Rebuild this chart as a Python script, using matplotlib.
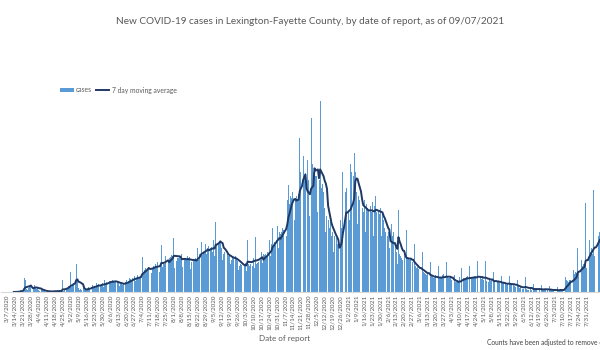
import matplotlib
matplotlib.use('Agg')
import matplotlib.pyplot as plt
import pandas as pd

plt.rcParams['font.family'] = ['Lato', 'DejaVu Sans']

# daily new cases, one row per week, each row starts on a Saturday (first row = 3/7/2020)
weekly_rows = [
    [0, 0, 0, 0, 0, 0, 1],
    [0, 0, 1, 2, 1, 4, 5],
    [3, 34, 30, 8, 6, 10, 12],
    [14, 6, 9, 17, 12, 8, 10],
    [6, 3, 5, 4, 2, 3, 1],
    [1, 0, 2, 3, 1, 2, 3],
    [2, 1, 3, 2, 4, 2, 3],
    [30, 2, 5, 8, 10, 14, 16],
    [50, 12, 18, 22, 20, 70, 30],
    [10, 4, 8, 6, 9, 5, 7],
    [6, 8, 12, 10, 14, 18, 12],
    [14, 10, 22, 18, 20, 16, 19],
    [22, 12, 30, 20, 25, 24, 28],
    [28, 22, 30, 26, 27, 25, 24],
    [22, 15, 20, 24, 18, 22, 25],
    [30, 20, 28, 34, 32, 30, 36],
    [40, 28, 35, 42, 38, 36, 40],
    [88, 45, 55, 60, 52, 58, 62],
    [70, 48, 60, 66, 62, 70, 65],
    [75, 50, 68, 118, 62, 72, 70],
    [90, 62, 80, 86, 88, 92, 90],
    [136, 60, 78, 84, 86, 90, 82],
    [95, 62, 80, 85, 80, 90, 86],
    [88, 58, 76, 82, 80, 86, 82],
    [110, 80, 95, 126, 92, 100, 98],
    [120, 95, 110, 115, 105, 112, 100],
    [130, 90, 176, 118, 120, 125, 128],
    [110, 80, 95, 100, 92, 98, 90],
    [92, 70, 80, 88, 84, 90, 86],
    [78, 55, 65, 70, 68, 72, 66],
    [72, 52, 130, 70, 64, 70, 66],
    [84, 60, 138, 70, 72, 76, 80],
    [100, 72, 95, 92, 96, 90, 100],
    [130, 90, 120, 160, 115, 125, 120],
    [165, 110, 150, 145, 150, 160, 155],
    [200, 140, 230, 267, 220, 240, 235],
    [250, 180, 235, 240, 230, 245, 385],
    [300, 220, 340, 290, 280, 0, 330],
    [280, 190, 435, 320, 300, 310, 290],
    [290, 200, 280, 477, 260, 270, 250],
    [210, 150, 190, 180, 160, 175, 140],
    [150, 100, 140, 135, 120, 130, 0],
    [180, 160, 300, 240, 250, 260, 0],
    [200, 180, 320, 300, 290, 348, 300],
    [250, 170, 240, 230, 220, 210, 200],
    [230, 150, 220, 210, 205, 215, 200],
    [225, 140, 215, 240, 200, 205, 195],
    [210, 140, 200, 180, 160, 150, 140],
    [150, 110, 0, 170, 140, 150, 125],
    [100, 70, 205, 95, 90, 85, 80],
    [95, 0, 155, 88, 85, 80, 82],
    [75, 0, 120, 65, 60, 62, 58],
    [55, 0, 100, 50, 48, 45, 42],
    [45, 0, 74, 40, 38, 36, 35],
    [42, 0, 65, 38, 36, 35, 42],
    [44, 0, 74, 38, 36, 34, 40],
    [30, 0, 43, 26, 24, 28, 25],
    [38, 0, 60, 36, 34, 32, 38],
    [40, 0, 66, 36, 38, 35, 40],
    [40, 0, 78, 36, 35, 32, 40],
    [30, 0, 78, 28, 25, 30, 28],
    [30, 0, 50, 28, 26, 24, 28],
    [22, 0, 40, 25, 22, 20, 18],
    [20, 0, 40, 22, 18, 20, 16],
    [12, 0, 30, 14, 10, 12, 8],
    [8, 0, 37, 8, 6, 5, 7],
    [6, 0, 20, 8, 7, 5, 6],
    [5, 0, 18, 6, 5, 8, 6],
    [4, 0, 14, 5, 4, 3, 5],
    [4, 0, 12, 4, 5, 6, 4],
    [4, 0, 37, 30, 28, 25, 30],
    [30, 0, 55, 45, 50, 48, 110],
    [50, 0, 80, 65, 70, 60, 222],
    [60, 0, 130, 100, 110, 95, 255],
    [90, 0, 160, 140, 150, 130, 150],
]
cases = [v for row in weekly_rows for v in row]
dates = pd.date_range('2020-03-07', periods=len(cases), freq='D')
df = pd.DataFrame({'cases': cases}, index=dates)
df['avg'] = df['cases'].rolling(7).mean()

# weekly category labels, the ones visible before the crop
tick_dates = pd.date_range('2020-03-07', '2021-07-31', freq='7D')
tick_labels = [f'{d.month}/{d.day}/{d.year}' for d in tick_dates]

fig = plt.figure(figsize=(6, 3.5), dpi=100)
# plot area runs past the right edge, like the cropped original
ax = fig.add_axes([0.0017, 0.1657, 1.05, 0.6057])

bars = ax.bar(df.index, df['cases'], width=0.85, color='#5B9BD5', linewidth=0, label='cases')
line, = ax.plot(df.index, df['avg'], color='#1F3864', linewidth=1.4, label='7 day moving average')

ax.set_xlim(pd.Timestamp('2020-03-07') - pd.Timedelta(days=5.3),
            pd.Timestamp('2020-03-07') + pd.Timedelta(days=550))
ax.set_ylim(0, 530)
ax.set_xticks(tick_dates)
ax.set_xticklabels(tick_labels, rotation=90, fontsize=4.5, color='#595959')
ax.tick_params(axis='x', length=0, pad=2)
ax.set_yticks([])
for s in ['top', 'left', 'right']:
    ax.spines[s].set_visible(False)
ax.spines['bottom'].set_color('#D9D9D9')

fig.text(310 / 600, 1 - 22 / 350, 'New COVID-19 cases in Lexington-Fayette County, by date of report, as of 09/07/2021',
         ha='center', va='center', fontsize=7.2, color='#595959')
fig.legend([bars, line], ['cases', '7 day moving average'], loc='center left',
           bbox_to_anchor=(54 / 600, 1 - 90 / 350), ncol=2, frameon=False,
           fontsize=4.9, handlelength=2.0, handleheight=0.5, columnspacing=0.6, handletextpad=0.3,
           labelcolor='#595959')
fig.text(285 / 600, 1 - 339 / 350, 'Date of report', ha='center', va='center', fontsize=5.8, color='#595959')
fig.text(487 / 600, 1 - 342 / 350, 'Counts have been adjusted to remove 6 false positives',
         ha='left', va='center', fontsize=4.8, color='#404040')

plt.savefig('out.png', dpi=100)
